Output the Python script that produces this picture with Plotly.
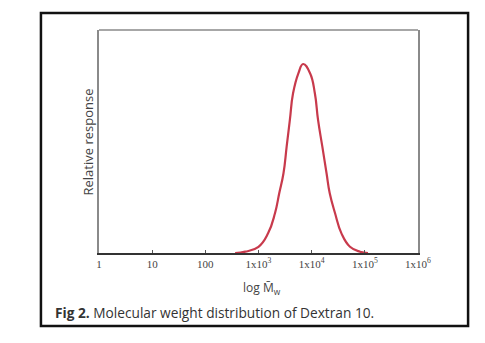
import plotly.graph_objects as go

# Molecular weight distribution of Dextran 10 (log Mw vs. relative response)
log_mw = [2.56, 2.75, 3.00, 3.18, 3.31, 3.39, 3.47, 3.53, 3.59, 3.65, 3.75, 3.84,
          3.97, 4.06, 4.12, 4.20, 4.28, 4.34, 4.44, 4.56, 4.72, 4.91, 5.06]
response = [0.0, 0.007, 0.033, 0.104, 0.210, 0.316, 0.422, 0.564, 0.704, 0.845, 0.951, 1.0,
            0.951, 0.845, 0.704, 0.564, 0.422, 0.316, 0.210, 0.104, 0.033, 0.007, 0.0]

tick_values = [1, 10, 100, 1e3, 1e4, 1e5, 1e6]
tick_labels = ["1", "10", "100", "1x10<sup>3</sup>", "1x10<sup>4</sup>",
               "1x10<sup>5</sup>", "1x10<sup>6</sup>"]

mw = [10 ** v for v in log_mw]

fig = go.Figure()
fig.add_trace(go.Scatter(
    x=mw, y=response, mode="lines",
    line=dict(color="#c83a4c", width=2.2, shape="spline", smoothing=1.3),
    hoverinfo="skip", showlegend=False,
))

fig.update_layout(
    width=485, height=343,
    margin=dict(l=99, r=67, t=30, b=90),
    paper_bgcolor="white", plot_bgcolor="white",
    font=dict(family="Open Sans, Liberation Sans, sans-serif", color="#333"),
    xaxis=dict(
        type="log", range=[0, 6],
        tickvals=tick_values, ticktext=tick_labels,
        tickfont=dict(family="Liberation Serif, serif", size=11, color="#444"),
        showgrid=False, zeroline=False,
        showline=True, linecolor="#333", linewidth=1.5,
        ticks="inside", ticklen=3, tickcolor="#555", tickwidth=1,
        ticklabelstandoff=0,
    ),
    yaxis=dict(
        range=[0, 1.18], showticklabels=False, ticks="",
        showgrid=False, zeroline=False,
        showline=True, linecolor="#8a8a8a", linewidth=1.5, mirror=True,
    ),
    shapes=[
        # top edge of the plot frame
        dict(type="line", xref="paper", yref="paper", x0=0, x1=1, y0=1, y1=1,
             line=dict(color="#8a8a8a", width=1.5)),
        # outer figure border
        dict(type="rect", xref="paper", yref="paper",
             x0=-0.182, x1=1.157, y0=-0.327, y1=1.076,
             line=dict(color="#111", width=2.5)),
    ],
    annotations=[
        dict(text="Relative response", xref="paper", yref="paper",
             x=-0.0345, y=0.5, xanchor="center", yanchor="middle",
             textangle=-90, showarrow=False,
             font=dict(size=13, color="#444")),
        dict(text="log M\u0304<sub>w</sub>", xref="paper", yref="paper",
             x=0.51, y=-0.157, xanchor="center", yanchor="middle",
             showarrow=False, font=dict(size=12, color="#444")),
        dict(text="<b>Fig 2.</b> Molecular weight distribution of Dextran 10.",
             xref="paper", yref="paper", x=-0.145, y=-0.265,
             xanchor="left", yanchor="middle", showarrow=False,
             font=dict(size=13.7, color="#333")),
    ],
)

fig.write_html("out.html")
